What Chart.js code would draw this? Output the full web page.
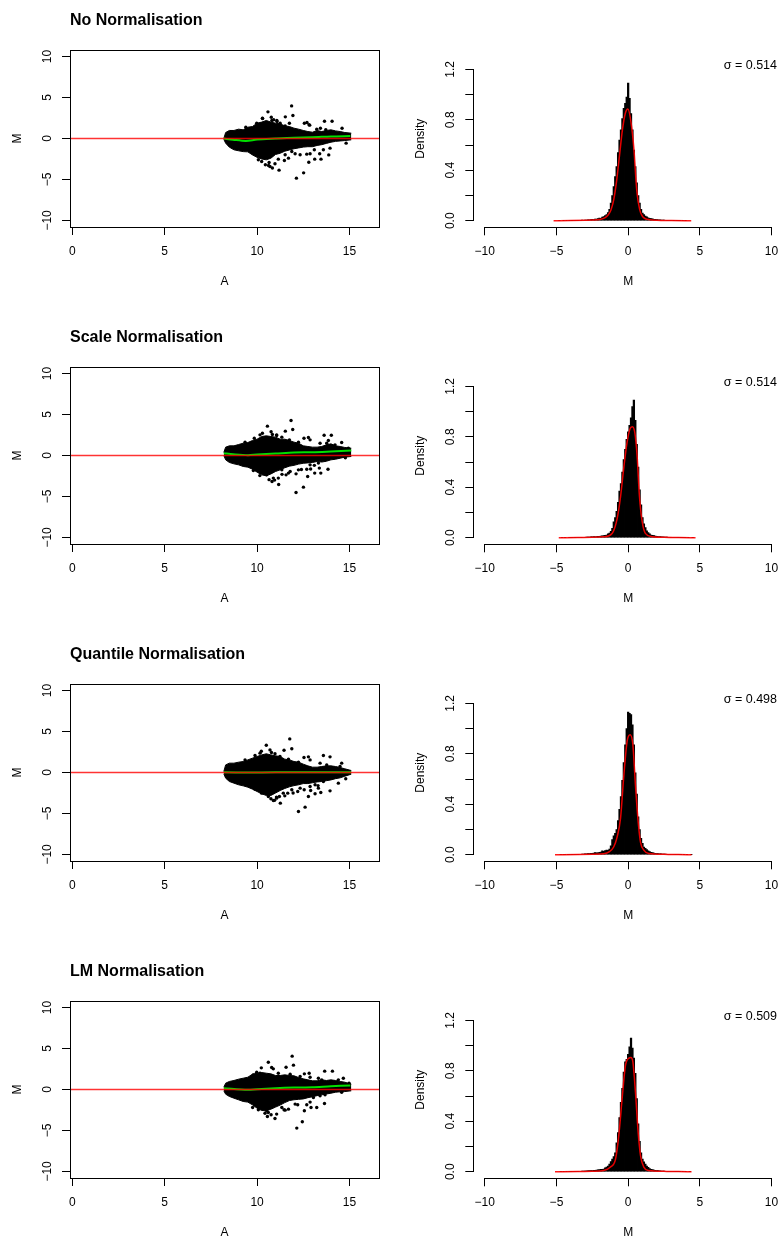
<!DOCTYPE html>
<html>
<head>
<meta charset="utf-8">
<title>Normalisation MA plots</title>
<script src="https://cdn.jsdelivr.net/npm/chart.js@4"></script>
<style>
  html, body { margin: 0; padding: 0; background: #fff; overflow: hidden; }
  #page { position: relative; width: 778px; height: 1238px; overflow: hidden; }
  canvas { position: absolute; }
</style>
</head>
<body>
<div id="page"></div>
<script>
// Panel text
const panelTitles = ['No Normalisation', 'Scale Normalisation', 'Quantile Normalisation', 'LM Normalisation'];
const sigmaLabels = ['σ = 0.514', 'σ = 0.514', 'σ = 0.498', 'σ = 0.509'];

// Axis ticks
const aTicks = [0, 5, 10, 15];
const mTicks = [-10, -5, 0, 5, 10];
const histXTicks = [-10, -5, 0, 5, 10];
const densityTicks = [0, 0.2, 0.4, 0.6, 0.8, 1.0, 1.2];
const densityLabelled = [0, 0.4, 0.8, 1.2];

const cloudA = [8.2, 8.3, 8.5, 8.75, 9, 9.25, 9.5, 9.75, 10, 10.25, 10.5, 10.75, 11, 11.25, 11.5, 11.75, 12, 12.25, 12.5, 12.75, 13, 13.25, 13.5, 13.75, 14, 14.25, 14.5, 14.75, 15.1];
const cloudTop1 = [0, .73, .98, .98, 1.14, 1.06, 1.38, 1.46, 1.87, 2, 2.2, 2, 1.87, 1.79, 1.54, 1.46, 1.26, 1.14, .98, .85, .77, .98, .85, .98, 1.06, .93, .85, .73, .65];
const cloudBot1 = [-.1, -.57, -1.06, -1.38, -1.5, -1.6, -1.63, -2, -2.3, -2.5, -2.6, -2.4, -1.95, -1.8, -1.55, -1.4, -1.25, -1.15, -1.05, -1, -1, -.85, -.75, -.6, -.45, -.35, -.3, -.25, -.16];
const cloudTop2 = [.37, 1.02, 1.18, 1.18, 1.34, 1.5, 1.58, 1.83, 1.99, 2.32, 2.4, 2.32, 2.24, 1.99, 1.99, 1.83, 1.63, 1.5, 1.18, 1.1, 1.02, 1.02, 1.1, 1.3, 1.42, 1.18, 1.1, .98, .89];
const cloudBot2 = [0, -.53, -.85, -1.02, -1.14, -1.34, -1.42, -1.67, -2.03, -2.36, -2.48, -2.25, -1.95, -1.75, -1.5, -1.3, -1.2, -1.05, -.95, -.9, -.85, -.73, -.8, -.7, -.53, -.45, -.33, -.2, -.12];
const cloudTop3 = [.12, .93, 1.14, 1.14, 1.26, 1.34, 1.54, 1.75, 1.95, 2.15, 2.28, 2.15, 2.03, 1.95, 1.63, 1.54, 1.34, 1.26, 1.02, .81, .65, .65, .73, .81, .81, .73, .61, .45, .24];
const cloudBot3 = [-.16, -.69, -1.1, -1.3, -1.5, -1.63, -1.79, -2.03, -2.32, -2.6, -2.8, -2.8, -2.5, -2.2, -1.95, -1.75, -1.6, -1.5, -1.35, -1.35, -1.25, -1.15, -1.1, -1, -.9, -.75, -.65, -.45, -.2];
const cloudTop4 = [.28, .77, .98, 1.1, 1.26, 1.38, 1.5, 1.87, 1.99, 2.07, 1.99, 1.91, 1.71, 1.71, 1.79, 1.71, 1.67, 1.46, 1.3, 1.18, 1.06, 1.06, 1.18, 1.1, 1.18, 1.1, .98, .89, .65];
const cloudBot4 = [-.16, -.57, -.85, -1.06, -1.26, -1.46, -1.54, -1.87, -2.28, -2.56, -2.6, -2.4, -2.15, -1.9, -1.6, -1.35, -1.25, -1.2, -1.15, -1, -.88, -.75, -.65, -.55, -.45, -.33, -.28, -.25, -.16];

// MA plots: separate dots at the fringe of the cloud, [A, M]
const dots1 = [[11.87,3.98],[11.94,2.8],[10.59,3.25],[11.53,2.64],[10.3,2.44],[10.77,2.6],[10.9,2.28],[11.08,2.07],
  [12.7,1.95],[12.56,1.87],[12.85,1.63],[13.65,2.11],[14.06,2.11],[13.43,1.26],[13.72,1.06],[14.6,1.26],
  [9.98,1.87],[10.29,2.48],[10.8,2.2],[11.07,2.2],[11.25,1.87],[11.52,1.54],[11.75,1.87],[9.39,1.38],[12.81,1.67],[13.23,1.14],
  [12.13,-4.84],[12.52,-4.19],[11.19,-3.86],[10.83,-3.6],[10.7,-3.41],[10.65,-2.92],[10.97,-3.09],[11.15,-2.52],[11.48,-2.68],
  [11.7,-2.4],[12.06,-1.87],[12.33,-1.99],[12.69,-1.91],[12.87,-1.87],[12.8,-2.89],[13.12,-2.52],[13.46,-2.52],[13.88,-2],
  [13.39,-1.87],[14.82,-0.57],[10.07,-2.6],[10.25,-2.8],[11.52,-1.99],[11.88,-1.58],[13.59,-1.38],[13.1,-1.38],[13.95,-1.18],
  [10.45,-3.2],[10.62,-3.3]];
const dots2 = [[11.84,4.27],[11.93,3.17],[10.56,3.58],[11.53,2.97],[10.29,2.72],[10.76,2.89],[10.83,2.56],[11.06,2.44],
  [12.54,2.11],[12.78,2.2],[12.87,1.91],[13.63,2.48],[14.02,2.48],[13.41,1.5],[13.77,1.5],[14.58,1.59],
  [9.35,1.63],[9.85,2.11],[10.16,2.52],[11.06,2.52],[11.34,2.24],[11.75,1.91],[12.24,1.63],[13.86,1.83],[14.22,1.3],[14.94,0.89],
  [12.11,-4.51],[12.51,-3.86],[11.17,-3.54],[10.81,-3.17],[11.15,-2.76],[11.57,-2.36],[12.11,-2.24],[12.24,-1.75],
  [12.74,-2.56],[13.12,-2.15],[13.45,-2.15],[13.84,-1.67],[13.37,-1.54],[14.78,-0.28],[10.52,-2.36],[10.88,-2.76],
  [11.34,-1.75],[11.79,-1.95],[12.69,-1.67],[12.87,-1.14],[13.32,-0.93],[13.68,-0.53],[9.8,-1.83],[10.34,-1.95],
  [10.65,-2.95],[10.95,-3.0],[11.35,-2.3],[11.7,-2.15],[12.4,-1.7],[12.9,-1.65],[13.1,-1.2],[10.15,-2.45]];
const dots3 = [[11.77,4.1],[11.88,2.89],[10.5,3.33],[11.46,2.72],[10.23,2.6],[10.7,2.76],[10.78,2.44],[10.97,2.28],
  [12.54,1.83],[12.78,1.91],[12.87,1.54],[13.59,2.07],[13.95,1.91],[13.41,1.14],[13.77,0.93],[14.58,1.14],
  [9.35,1.54],[9.89,2.07],[10.16,2.36],[11.24,1.95],[11.7,1.63],[12.24,1.26],[14.49,0.73],
  [12.24,-4.76],[12.6,-4.23],[11.26,-3.74],[10.88,-3.41],[11.21,-2.93],[11.66,-2.52],[12.2,-2.32],[12.33,-1.91],
  [12.78,-2.93],[13.14,-2.6],[13.45,-2.44],[13.95,-2.24],[13.32,-1.91],[14.8,-0.77],[9.89,-2.03],[10.25,-2.52],
  [10.61,-2.93],[11.06,-3.13],[11.42,-2.52],[11.88,-2.11],[12.87,-1.71],[13.14,-1.5],[13.59,-1.1],[13.92,-0.69],[14.4,-1.3],
  [10.75,-3.2],[10.95,-3.4],[11.05,-3.0],[11.5,-2.85],[11.95,-2.5],[12.55,-2.1],[12.9,-2.2],[13.3,-1.6]];
const dots4 = [[11.9,4.07],[11.97,2.97],[10.61,3.33],[11.57,2.72],[10.23,2.64],[10.79,2.68],[10.88,2.52],
  [12.56,1.91],[12.82,1.99],[12.87,1.5],[13.66,2.24],[14.08,2.24],[13.5,1.18],[14.67,1.38],[14.98,0.77],
  [9.8,1.79],[9.98,2.11],[10.16,2.0],[11.15,1.99],[11.79,1.87],[12.33,1.58],[13.32,1.38],[14.4,1.18],
  [12.15,-4.71],[12.45,-3.94],[10.97,-3.53],[10.76,-3.09],[10.61,-2.8],[11.06,-3],[10.52,-2.6],[11.34,-2.19],[11.52,-2.52],
  [11.7,-2.4],[12.06,-1.78],[12.2,-1.87],[12.69,-1.87],[12.92,-2.19],[13.23,-2.19],[13.65,-1.7],[12.56,-2.6],[13.05,-.97],
  [13.41,-.77],[14.58,-0.33],[9.76,-2.2],[10.07,-2.48],[10.43,-2.89],[10.56,-3.29],[11.46,-2.48],[12.87,-1.54],[13.68,-0.65]];

// MA plots: green trend line, [A, M]
const trend1 = [[8.2,0],[8.7,-0.15],[9.4,-0.3],[10,-0.12],[11,0],[12,0.1],[13,0.15],[14,0.25],[15.05,0.3]];
const trend2 = [[8.2,0.28],[8.7,0.16],[9.5,0.04],[10,0.12],[11,0.24],[12,0.37],[13,0.4],[14,0.49],[15.1,0.6]];
const trend3 = [[8.2,0.02],[9.5,0.01],[11,0.02],[13,0.03],[15.1,0.02]];
const trend4 = [[8.2,0.16],[9.5,-0.04],[10,0.04],[11,0.16],[12,0.24],[13,0.28],[14,0.4],[15.05,0.49]];

// zero line across the MA plot
const zeroLine = [[-0.125,0],[16.6,0]];

// Histograms: bin centres and densities
const binMids = [-5.0,-4.9,-4.8,-4.7,-4.6,-4.5,-4.4,-4.3,-4.2,-4.1,
  -4.0,-3.9,-3.8,-3.7,-3.6,-3.5,-3.4,-3.3,-3.2,-3.1,
  -3.0,-2.9,-2.8,-2.7,-2.6,-2.5,-2.4,-2.3,-2.2,-2.1,
  -2.0,-1.9,-1.8,-1.7,-1.6,-1.5,-1.4,-1.3,-1.2,-1.1,
  -1.0,-0.9,-0.8,-0.7,-0.6,-0.5,-0.4,-0.3,-0.2,-0.1,
  0,0.1,0.2,0.3,0.4,0.5,0.6,0.7,0.8,0.9,
  1.0,1.1,1.2,1.3,1.4,1.5,1.6,1.7,1.8,1.9,
  2.0,2.1,2.2,2.3,2.4,2.5,2.6,2.7,2.8,2.9,
  3.0,3.1,3.2,3.3,3.4,3.5,3.6,3.7,3.8,3.9,
  4.0,4.1,4.2,4.3,4.4,4.5,4.6,4.7];
const hist1 = [0,0,.001,0,0,.001,0,.001,0,.001,
  .002,.001,.002,.002,.002,.003,.004,.003,.005,.004,
  .006,.005,.008,.007,.009,.012,.01,.014,.013,.018,
  .022,.02,.028,.032,.04,.048,.065,.09,.14,.2,
  .27,.35,.43,.54,.64,.72,.81,.89,.93,.98,
  1.09,.97,.85,.72,.56,.43,.3,.2,.14,.09,
  .06,.048,.037,.03,.024,.02,.018,.015,.012,.012,
  .01,.008,.007,.006,.005,.005,.004,.003,.003,.002,
  .002,.002,.001,.002,.001,.001,.001,0,.001,0,
  .001,0,0,0,0,0,0,0];
const hist2 = [0,0,0,0,.001,0,.001,0,0,.001,
  .001,.001,.002,.001,.002,.002,.003,.002,.003,.004,
  .004,.005,.005,.006,.007,.007,.009,.008,.01,.012,
  .012,.014,.016,.018,.02,.022,.03,.036,.05,.075,
  .127,.16,.21,.28,.37,.43,.52,.62,.7,.78,
  .84,.89,.95,1.04,1.09,.93,.74,.56,.38,.26,
  .16,.11,.08,.055,.04,.03,.022,.02,.017,.014,
  .012,.01,.009,.008,.007,.006,.005,.005,.004,.004,
  .003,.003,.002,.002,.002,.001,.002,.001,.001,.001,
  .001,0,.001,0,0,.001,0,0];
const hist3 = [0,0,0,.001,0,.001,.001,0,.001,.001,
  .002,.001,.002,.002,.003,.003,.004,.004,.006,.005,
  .007,.007,.01,.009,.012,.011,.014,.018,.016,.016,
  .02,.022,.03,.027,.032,.037,.035,.045,.07,.12,
  .15,.17,.2,.27,.36,.46,.59,.73,.87,1.0,
  1.13,1.12,1.11,1.03,.87,.65,.48,.3,.2,.13,
  .09,.06,.05,.04,.03,.025,.02,.017,.014,.012,
  .01,.009,.008,.007,.006,.005,.005,.004,.003,.003,
  .002,.002,.002,.001,.002,.001,.001,.001,0,.001,
  0,.001,0,0,.001,0,0,0];
const hist4 = [0,0,0,.001,0,.001,0,.001,0,.001,
  .001,.002,.002,.002,.003,.003,.004,.004,.005,.005,
  .006,.007,.007,.009,.01,.01,.012,.012,.014,.015,
  .017,.02,.02,.022,.03,.037,.045,.06,.08,.1,
  .12,.15,.23,.31,.43,.55,.66,.79,.87,.89,
  .93,.99,1.06,.98,.9,.78,.58,.38,.24,.15,
  .1,.078,.06,.045,.035,.025,.02,.017,.014,.012,
  .01,.009,.008,.006,.006,.005,.004,.004,.003,.003,
  .002,.002,.002,.001,.001,.001,.001,0,.001,0,
  .001,0,0,.001,0,0,0,0];

// Histograms: red density curve, [M, density]
const curve1 = [[-5.2,0],[-4,.001],[-3,.003],[-2.5,.005],[-2,.01],[-1.6,.025],[-1.4,.045],[-1.2,.085],[-1,.17],[-.8,.32],[-.6,.52],[-.4,.72],[-.2,.85],[-.02,.885],[.2,.78],[.4,.57],[.6,.24],[.8,.09],[1,.035],[1.2,.016],[1.5,.008],[2,.004],[3,.002],[4.4,0]];
const curve2 = [[-4.84,0],[-3.5,.002],[-2.5,.003],[-1.7,.007],[-1.12,.034],[-.77,.15],[-.53,.325],[-.3,.56],[-.07,.76],[.16,.87],[.3,.88],[.47,.83],[.63,.64],[.79,.325],[.98,.127],[1.2,.034],[1.67,.008],[2.5,.003],[3.5,.001],[4.7,0]];
const curve3 = [[-5.1,0],[-3.5,.002],[-2.5,.004],[-1.7,.008],[-1.3,.025],[-1,.063],[-.77,.14],[-.53,.29],[-.3,.63],[-.07,.9],[.14,.95],[.33,.87],[.51,.55],[.7,.26],[.86,.1],[1.09,.037],[1.44,.01],[2.5,.003],[3.5,.001],[4.42,0]];
const curve4 = [[-5.1,0],[-3.5,.002],[-2.5,.004],[-1.7,.01],[-1.23,.037],[-.88,.1],[-.65,.29],[-.42,.58],[-.19,.84],[.05,.9],[.19,.905],[.33,.87],[.51,.63],[.7,.31],[.86,.13],[1.09,.037],[1.44,.01],[2.5,.003],[3.5,.001],[4.42,0]];

const cloudTops = [cloudTop1, cloudTop2, cloudTop3, cloudTop4];
const cloudBots = [cloudBot1, cloudBot2, cloudBot3, cloudBot4];
const dotSets = [dots1, dots2, dots3, dots4];
const trends = [trend1, trend2, trend3, trend4];
const hists = [hist1, hist2, hist3, hist4];
const curves = [curve1, curve2, curve3, curve4];

Chart.defaults.font.family = '"Liberation Sans", Arial, sans-serif';
Chart.defaults.font.size = 12;
Chart.defaults.color = '#000';
Chart.defaults.animation = false;

const ROW_STEP = 317;
const toXY = pairs => pairs.map(p => ({ x: p[0], y: p[1] }));

// R writes y tick labels turned 90 degrees and centred on the tick
function drawRotatedYLabels(chart) {
  const scale = chart.scales.y;
  const ctx = chart.ctx;
  ctx.save();
  ctx.font = '12px "Liberation Sans", Arial, sans-serif';
  ctx.fillStyle = '#000';
  ctx.textAlign = 'center';
  ctx.textBaseline = 'middle';
  scale.ticks.forEach((tick, i) => {
    if (!tick.label) return;
    ctx.save();
    ctx.translate(chart.chartArea.left - 22.5, scale.getPixelForTick(i));
    ctx.rotate(-Math.PI / 2);
    ctx.fillText(tick.label, 0, 0);
    ctx.restore();
  });
  ctx.restore();
}

const boxPlugin = {
  id: 'boxPlugin',
  afterDraw(chart) {
    const a = chart.chartArea;
    const ctx = chart.ctx;
    ctx.save();
    ctx.strokeStyle = '#000';
    ctx.lineWidth = 1;
    ctx.strokeRect(Math.round(a.left) + 0.5, Math.round(a.top) + 0.5, Math.round(a.width), Math.round(a.height));
    ctx.restore();
    drawRotatedYLabels(chart);
  }
};

function histPlugin(sigmaText) {
  return {
    id: 'histPlugin',
    afterDraw(chart) {
      const a = chart.chartArea;
      const { x, y } = chart.scales;
      const ctx = chart.ctx;
      ctx.save();
      ctx.strokeStyle = '#000';
      ctx.lineWidth = 1;
      ctx.beginPath();
      // axis lines only run between the outer ticks
      ctx.moveTo(Math.round(x.getPixelForValue(histXTicks[0])), Math.round(a.bottom) + 0.5);
      ctx.lineTo(Math.round(x.getPixelForValue(histXTicks[histXTicks.length - 1])), Math.round(a.bottom) + 0.5);
      ctx.moveTo(Math.round(a.left) + 0.5, Math.round(y.getPixelForValue(densityTicks[0])));
      ctx.lineTo(Math.round(a.left) + 0.5, Math.round(y.getPixelForValue(densityTicks[densityTicks.length - 1])));
      ctx.stroke();
      ctx.fillStyle = '#000';
      ctx.font = '12.5px "Liberation Sans", Arial, sans-serif';
      ctx.textAlign = 'right';
      ctx.textBaseline = 'middle';
      ctx.fillText(sigmaText, a.right - 6, a.top + 15.5);
      ctx.restore();
      drawRotatedYLabels(chart);
    }
  };
}

function addCanvas(left, top, width, height) {
  const canvas = document.createElement('canvas');
  canvas.width = width;
  canvas.height = height;
  canvas.style.left = left + 'px';
  canvas.style.top = top + 'px';
  canvas.style.width = width + 'px';
  canvas.style.height = height + 'px';
  document.getElementById('page').appendChild(canvas);
  return canvas;
}

function tickGrid() {
  return { display: true, drawOnChartArea: false, drawTicks: true, tickLength: 8, tickColor: '#000', tickWidth: 1, color: '#000', offset: false };
}

function minusSign(value) {
  return String(value).replace('-', '\u2212');
}

// keep the x range on the full plot width, tick labels may hang over
function fixBottomAxis(scale, height) {
  scale.height = height;
  scale.paddingLeft = 0;
  scale.paddingRight = 0;
}

// left column: MA plot
function makeMaChart(i) {
  const canvas = addCanvas(0, i * ROW_STEP, 389, 289);
  new Chart(canvas, {
    type: 'scatter',
    data: {
      datasets: [
        { type: 'line', data: toXY(zeroLine), borderColor: 'rgba(255,0,0,0.8)', borderWidth: 1.4, pointRadius: 0 },
        { type: 'line', data: toXY(trends[i]), borderColor: '#00e000', borderWidth: 2, pointRadius: 0, tension: 0.3 },
        { type: 'scatter', data: toXY(dotSets[i]), backgroundColor: '#000', borderWidth: 0, pointRadius: 1.7 },
        { type: 'line', data: cloudA.map((a, k) => ({ x: a, y: cloudTops[i][k] })), borderColor: '#000', borderWidth: 1, backgroundColor: '#000', pointRadius: 0, fill: '+1' },
        { type: 'line', data: cloudA.map((a, k) => ({ x: a, y: cloudBots[i][k] })), borderColor: '#000', borderWidth: 1, pointRadius: 0, fill: false }
      ]
    },
    options: {
      responsive: false,
      events: [],
      layout: { autoPadding: false, padding: { right: 10 } },
      plugins: {
        legend: { display: false },
        tooltip: { enabled: false },
        title: {
          display: true,
          text: panelTitles[i],
          align: 'start',
          fullSize: false,
          color: '#000',
          font: { size: 16, weight: 'bold' },
          padding: { top: 11.4, bottom: 19.4 }
        }
      },
      scales: {
        x: {
          type: 'linear', min: -0.125, max: 16.6,
          afterBuildTicks: s => { s.ticks = aTicks.map(v => ({ value: v })); },
          afterFit: s => fixBottomAxis(s, 62),
          border: { display: false },
          grid: tickGrid(),
          ticks: { autoSkip: false, maxRotation: 0, padding: 9.5, color: '#000' },
          title: { display: true, text: 'A', color: '#000', padding: { top: 0, bottom: 0 } }
        },
        y: {
          type: 'linear', min: -10.8, max: 10.8,
          afterBuildTicks: s => { s.ticks = mTicks.map(v => ({ value: v })); },
          afterFit: s => { s.width = 70; },
          border: { display: false },
          grid: tickGrid(),
          ticks: { display: false, autoSkip: false, callback: minusSign },
          title: { display: true, text: 'M', color: '#000', padding: { top: 10, bottom: 0 } }
        }
      }
    },
    plugins: [boxPlugin]
  });
}

// right column: histogram with fitted curve
function makeHistChart(i) {
  const canvas = addCanvas(389, i * ROW_STEP, 394, 289);
  new Chart(canvas, {
    type: 'bar',
    data: {
      datasets: [
        { type: 'line', data: toXY(curves[i]), borderColor: 'rgba(255,0,0,0.9)', borderWidth: 1.5, pointRadius: 0, cubicInterpolationMode: 'monotone', order: 0 },
        // empty bins get no bar at all
        { type: 'bar', data: binMids.map((m, k) => ({ x: m, y: hists[i][k] || null })), backgroundColor: '#000', borderWidth: 0, barThickness: 1.6, order: 1 }
      ]
    },
    options: {
      responsive: false,
      events: [],
      layout: { autoPadding: false, padding: { top: 50 } },
      plugins: { legend: { display: false }, tooltip: { enabled: false } },
      scales: {
        x: {
          type: 'linear', min: -10.8, max: 10.8, offset: false,
          afterBuildTicks: s => { s.ticks = histXTicks.map(v => ({ value: v })); },
          afterFit: s => fixBottomAxis(s, 61.7),
          border: { display: false },
          grid: tickGrid(),
          ticks: { autoSkip: false, maxRotation: 0, padding: 9.5, color: '#000', callback: minusSign },
          title: { display: true, text: 'M', color: '#000', padding: { top: 0, bottom: 0 } }
        },
        y: {
          type: 'linear', min: -0.052, max: 1.353,
          afterBuildTicks: s => { s.ticks = densityTicks.map(v => ({ value: v })); },
          afterFit: s => { s.width = 84.3; },
          border: { display: false },
          grid: tickGrid(),
          ticks: {
            display: false, autoSkip: false,
            callback: v => (densityLabelled.includes(v) ? v.toFixed(1) : '')
          },
          title: { display: true, text: 'Density', color: '#000', padding: { top: 24, bottom: 0 } }
        }
      }
    },
    plugins: [histPlugin(sigmaLabels[i])]
  });
}

panelTitles.forEach((title, i) => {
  makeMaChart(i);
  makeHistChart(i);
});
</script>
</body>
</html>
